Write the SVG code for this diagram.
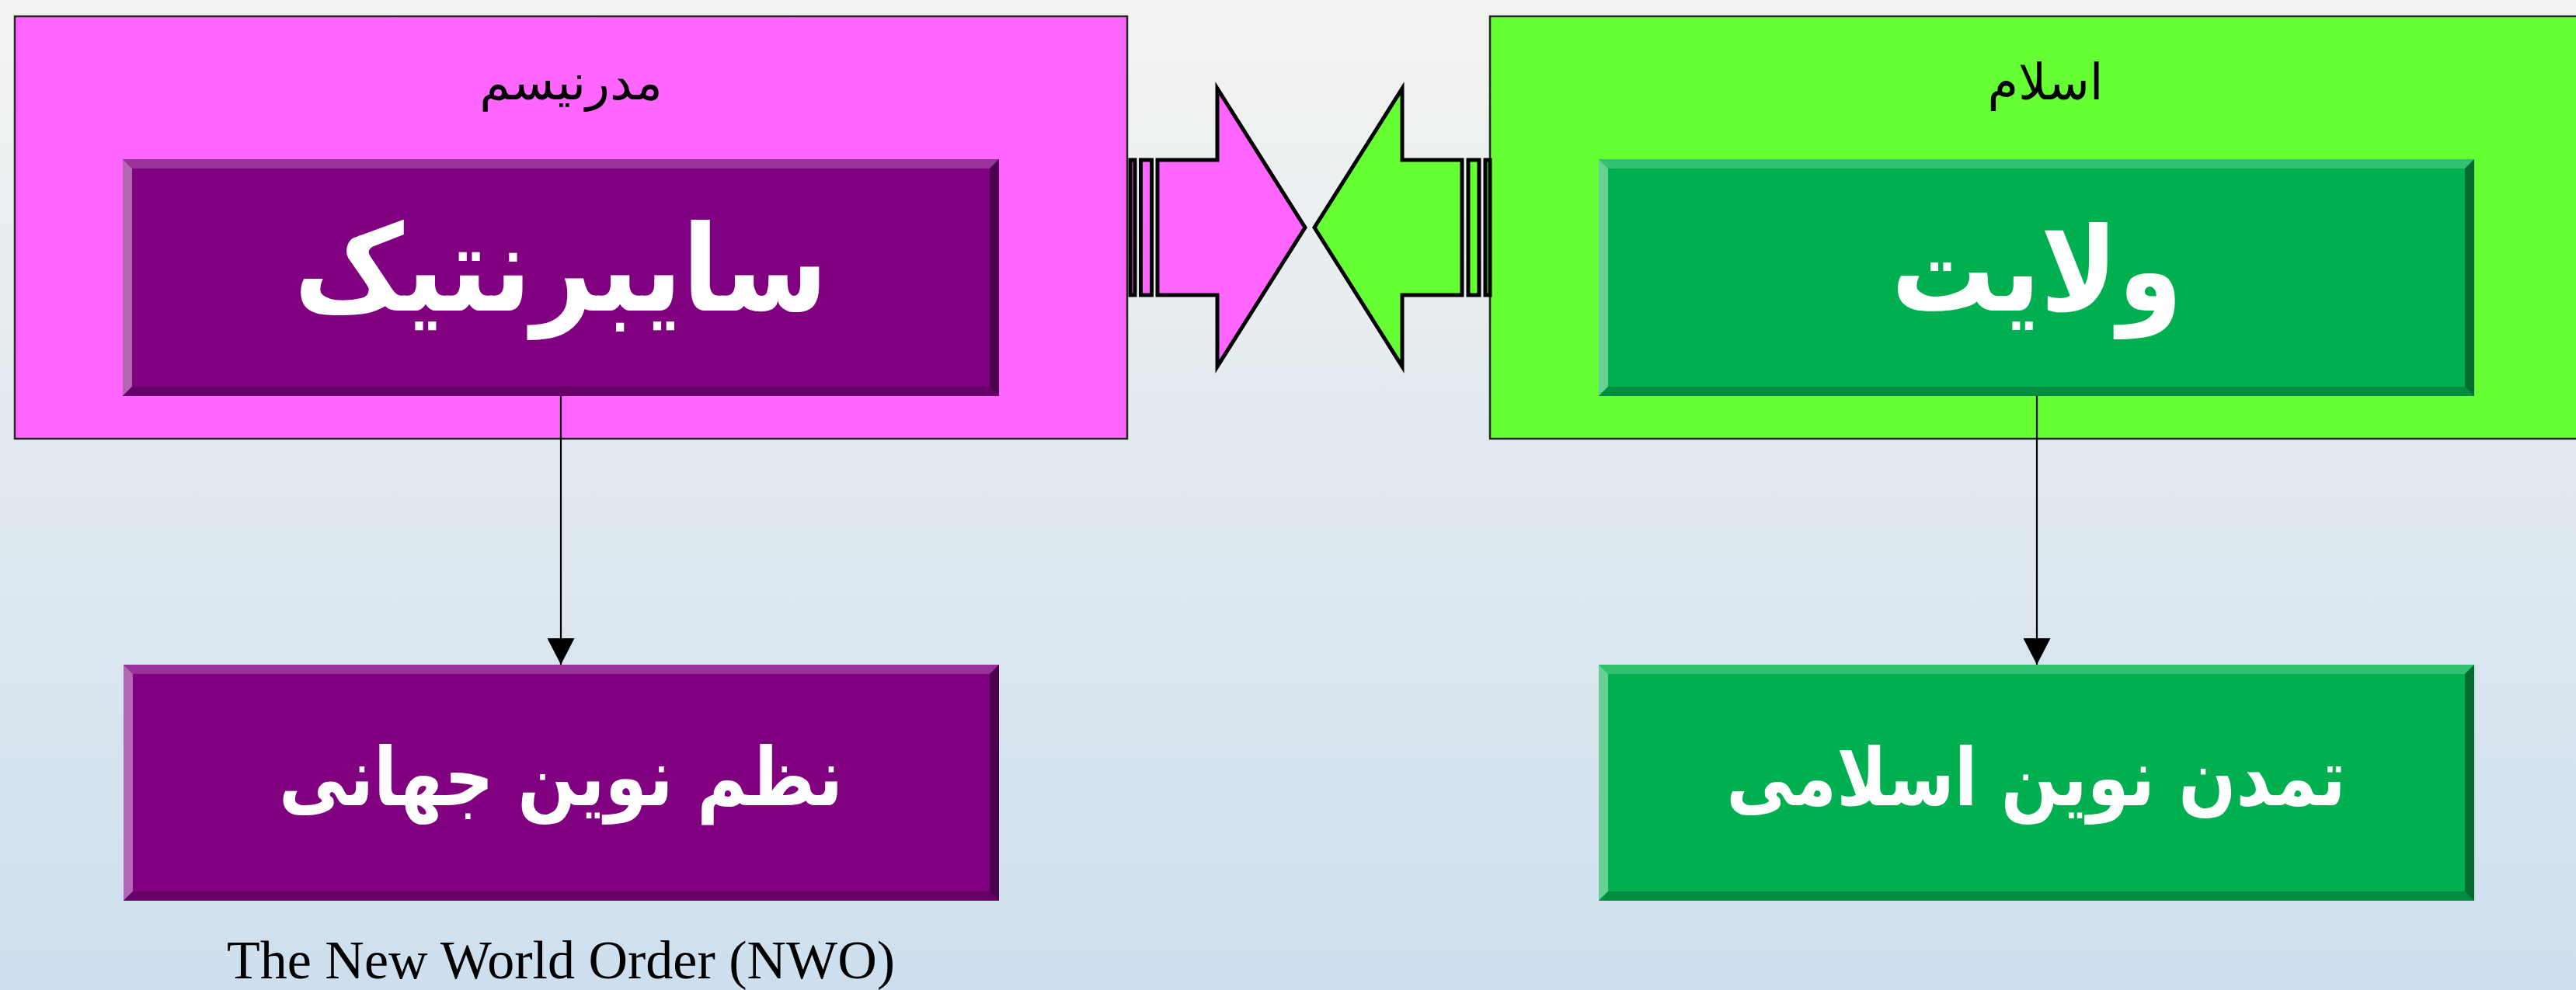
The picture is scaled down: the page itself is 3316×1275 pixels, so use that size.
<svg xmlns="http://www.w3.org/2000/svg" width="3316" height="1275" viewBox="0 0 3316 1275">
  <defs>
    <linearGradient id="bg" x1="0" y1="0" x2="0" y2="1">
      <stop offset="0" stop-color="#F3F3F1"/>
      <stop offset="1" stop-color="#CDDFEE"/>
    </linearGradient>
    <marker id="arrowhead" viewBox="0 0 34 35" refX="34" refY="17.5" markerWidth="34" markerHeight="35" markerUnits="userSpaceOnUse" orient="auto">
      <path d="M0,0 L34,17.5 L0,35 Z" fill="#000"/>
    </marker>
  </defs>
  <style>
    .frame { stroke: #262626; stroke-width: 2.5; }
    .frame-pink { fill: #FF66FF; }
    .frame-green { fill: #66FF33; }
    .frame-title { font-family: "DejaVu Sans", "Noto Sans", sans-serif; font-size: 64px; fill: #000; text-anchor: middle; }
    .p-face { fill: #800080; }
    .p-top { fill: #993399; }
    .p-left { fill: #B366B3; }
    .p-bottom { fill: #660066; }
    .p-right { fill: #4D004D; }
    .g-face { fill: #00B050; }
    .g-top { fill: #33C073; }
    .g-left { fill: #66D096; }
    .g-bottom { fill: #008D40; }
    .g-right { fill: #006A30; }
    .big { font-family: "DejaVu Sans", "Noto Sans", sans-serif; font-weight: bold; fill: #FFFFFF; text-anchor: middle; }
    .caption { font-family: "Liberation Serif", "Times New Roman", serif; font-size: 70px; fill: #000; text-anchor: middle; }
    .block { stroke: #000; stroke-width: 5; stroke-miterlimit: 10; }
    .link { stroke: #000; stroke-width: 2.2; fill: none; }
  </style>

  <!-- page background -->
  <rect x="0" y="0" width="3316" height="1275" fill="url(#bg)"/>

  <!-- Modernism frame -->
  <g id="modernism">
    <rect class="frame frame-pink" x="19" y="21" width="1432" height="544"/>
    <text class="frame-title" x="735" y="128">مدرنیسم</text>
  </g>

  <!-- Islam frame (runs off the right edge) -->
  <g id="islam">
    <rect class="frame frame-green" x="1918" y="21" width="1440" height="544"/>
    <text class="frame-title" x="2633" y="128">اسلام</text>
  </g>

  <!-- Cybernetics -->
  <g id="cybernetics">
    <rect class="p-face" x="158" y="205" width="1128" height="305"/>
    <polygon class="p-top" points="158,205 1286,205 1274,217 170,217"/>
    <polygon class="p-left" points="158,205 170,217 170,498 158,510"/>
    <polygon class="p-bottom" points="158,510 170,498 1274,498 1286,510"/>
    <polygon class="p-right" points="1286,205 1286,510 1274,498 1274,217"/>
    <text class="big" transform="translate(722,400) scale(1,1.12)" font-size="138">سایبرنتیک</text>
  </g>

  <!-- Velayat -->
  <g id="velayat">
    <rect class="g-face" x="2058" y="205" width="1127" height="305"/>
    <polygon class="g-top" points="2058,205 3185,205 3173,217 2070,217"/>
    <polygon class="g-left" points="2058,205 2070,217 2070,498 2058,510"/>
    <polygon class="g-bottom" points="2058,510 2070,498 3173,498 3185,510"/>
    <polygon class="g-right" points="3185,205 3185,510 3173,498 3173,217"/>
    <text class="big" transform="translate(2622,400) scale(1,1.12)" font-size="134">ولایت</text>
  </g>

  <!-- New World Order -->
  <g id="new-world-order">
    <rect class="p-face" x="159" y="856" width="1127" height="304"/>
    <polygon class="p-top" points="159,856 1286,856 1274,868 171,868"/>
    <polygon class="p-left" points="159,856 171,868 171,1148 159,1160"/>
    <polygon class="p-bottom" points="159,1160 171,1148 1274,1148 1286,1160"/>
    <polygon class="p-right" points="1286,856 1286,1160 1274,1148 1274,868"/>
    <text class="big" transform="translate(722,1037) scale(1,1.18)" font-size="88">نظم نوین جهانی</text>
  </g>

  <!-- New Islamic Civilization -->
  <g id="islamic-civilization">
    <rect class="g-face" x="2058" y="856" width="1127" height="304"/>
    <polygon class="g-top" points="2058,856 3185,856 3173,868 2070,868"/>
    <polygon class="g-left" points="2058,856 2070,868 2070,1148 2058,1160"/>
    <polygon class="g-bottom" points="2058,1160 2070,1148 3173,1148 3185,1160"/>
    <polygon class="g-right" points="3185,856 3185,1160 3173,1148 3173,868"/>
    <text class="big" transform="translate(2621,1037) scale(1,1.18)" font-size="87">تمدن نوین اسلامی</text>
  </g>

  <!-- caption under the NWO box -->
  <g id="nwo-caption">
    <text class="caption" x="722" y="1260">The New World Order (NWO)</text>
  </g>

  <!-- striped block arrows meeting in the middle -->
  <g id="clash-arrows">
    <g fill="#FF66FF">
      <rect class="block" x="1455" y="206" width="6" height="174"/>
      <rect class="block" x="1468.5" y="206" width="14" height="174"/>
      <polygon class="block" points="1490,206 1567,206 1567,114 1680,293 1567,472 1567,380 1490,380"/>
    </g>
    <g fill="#66FF33">
      <rect class="block" x="1912" y="206" width="6" height="174"/>
      <rect class="block" x="1890" y="206" width="14" height="174"/>
      <polygon class="block" points="1882,206 1805,206 1805,114 1692,293 1805,472 1805,380 1882,380"/>
    </g>
  </g>

  <!-- connectors -->
  <g id="connectors">
    <line class="link" x1="722" y1="510" x2="722" y2="856" marker-end="url(#arrowhead)"/>
    <line class="link" x1="2622" y1="510" x2="2622" y2="856" marker-end="url(#arrowhead)"/>
  </g>
</svg>
